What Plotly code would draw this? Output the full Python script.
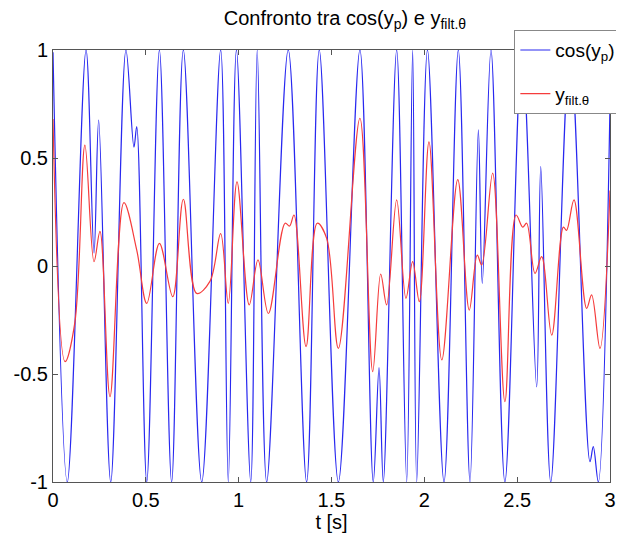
import plotly.graph_objects as go

# cos(y_p): turning points (time in s, value)
t_cos = [0.000, 0.077, 0.178, 0.221, 0.246, 0.311, 0.393, 0.436, 0.451, 0.505,
         0.573, 0.639, 0.702, 0.801, 0.903, 0.944, 0.988, 1.065, 1.100, 1.151,
         1.267, 1.366, 1.434, 1.537, 1.653, 1.725, 1.756, 1.779, 1.851, 1.905,
         1.937, 1.959, 2.017, 2.106, 2.183, 2.246, 2.291, 2.312, 2.359, 2.434,
         2.526, 2.605, 2.627, 2.681, 2.785, 2.892, 2.910, 2.937, 3.000]
cos_yp = [0.99, -1, 1, 0.06, 0.676, -1, 1, 0.55, 0.645, -1,
          1, -1, 1, -1, 1, -1, 1, -1, 1, -1,
          1, -1, 1, -1, 1, -1, -0.47, -1, 1, -1,
          1, -1, 1, -1, 1, -1, 0.63, -0.08, 1, -1,
          1, -0.56, 0.46, -1, 1, -0.906, -0.836, -1, 0.75]

# y_filt.theta: turning points
t_filt = [0.000, 0.065, 0.118, 0.172, 0.221, 0.253, 0.307, 0.382, 0.451, 0.505,
          0.573, 0.645, 0.702, 0.774, 0.846, 0.903, 0.944, 0.991, 1.057, 1.104,
          1.160, 1.250, 1.274, 1.298, 1.363, 1.423, 1.474, 1.537, 1.653, 1.722,
          1.765, 1.797, 1.851, 1.901, 1.937, 1.973, 2.025, 2.094, 2.180, 2.242,
          2.285, 2.309, 2.368, 2.434, 2.494, 2.530, 2.551, 2.596, 2.632, 2.686,
          2.749, 2.766, 2.806, 2.874, 2.901, 2.946, 3.000]
y_filt = [0.68, -0.443, -0.26, 0.56, 0.02, 0.16, -0.605, 0.293, 0.074, -0.173,
          0.105, -0.142, 0.309, -0.127, -0.07, 0.15, -0.173, 0.39, -0.18, 0.028,
          -0.22, 0.198, 0.185, 0.236, -0.373, 0.198, 0.128, -0.381, 0.684, -0.489,
          -0.037, -0.18, 0.306, -0.15, 0.02, -0.165, 0.575, -0.435, 0.40, -0.204,
          0.05, 0.005, 0.43, -0.628, 0.236, 0.18, 0.198, -0.034, 0.043, -0.32,
          0.18, 0.165, 0.306, -0.196, -0.134, -0.381, 0.35]

x_ticks = [0, 0.5, 1, 1.5, 2, 2.5, 3]
x_labels = ['0', '0.5', '1', '1.5', '2', '2.5', '3']
y_ticks = [-1, -0.5, 0, 0.5, 1]
y_labels = ['-1', '-0.5', '0', '0.5', '1']

font = 'Liberation Sans, Arial, Helvetica, sans-serif'

fig = go.Figure()

fig.add_trace(go.Scatter(
    x=t_cos, y=cos_yp, mode='lines', name='cos(y<sub>p</sub>)', legendgroup='a',
    line=dict(color='rgb(40,40,240)', width=1.2, shape='spline', smoothing=1.0)
))
fig.add_trace(go.Scatter(
    x=t_filt, y=y_filt, mode='lines', name='y<sub>filt.θ</sub>', legendgroup='b',
    line=dict(color='rgb(245,60,60)', width=1.2, shape='spline', smoothing=1.0)
))

axis_style = dict(showline=True, linecolor='#555', linewidth=1, mirror='ticks',
                  ticks='inside', ticklen=5, tickcolor='#555', showgrid=False,
                  zeroline=False, automargin=False,
                  tickfont=dict(size=20, color='black'))

# page body has an 8px margin, so the figure is sized to end at the window edge
fig.update_layout(
    width=616,
    height=527,
    paper_bgcolor='white',
    plot_bgcolor='white',
    font=dict(family=font, color='black'),
    margin=dict(l=45, r=14, t=42, b=53, autoexpand=False),
    title=dict(text='Confronto tra cos(y<sub>p</sub>) e y<sub>filt.θ</sub>',
               x=0.547, xanchor='center', y=0.995, yanchor='top', font=dict(size=20)),
    xaxis=dict(range=[0, 3], tickvals=x_ticks, ticktext=x_labels,
               title=dict(text='t [s]', font=dict(size=20), standoff=0), **axis_style),
    yaxis=dict(range=[-1, 1], tickvals=y_ticks, ticktext=y_labels, **axis_style),
    legend=dict(xref='container', yref='container', x=0.822, y=0.958,
                xanchor='left', yanchor='top', tracegroupgap=16,
                bgcolor='white', bordercolor='#888', borderwidth=1,
                font=dict(size=19)),
)

fig.write_html("out.html")
